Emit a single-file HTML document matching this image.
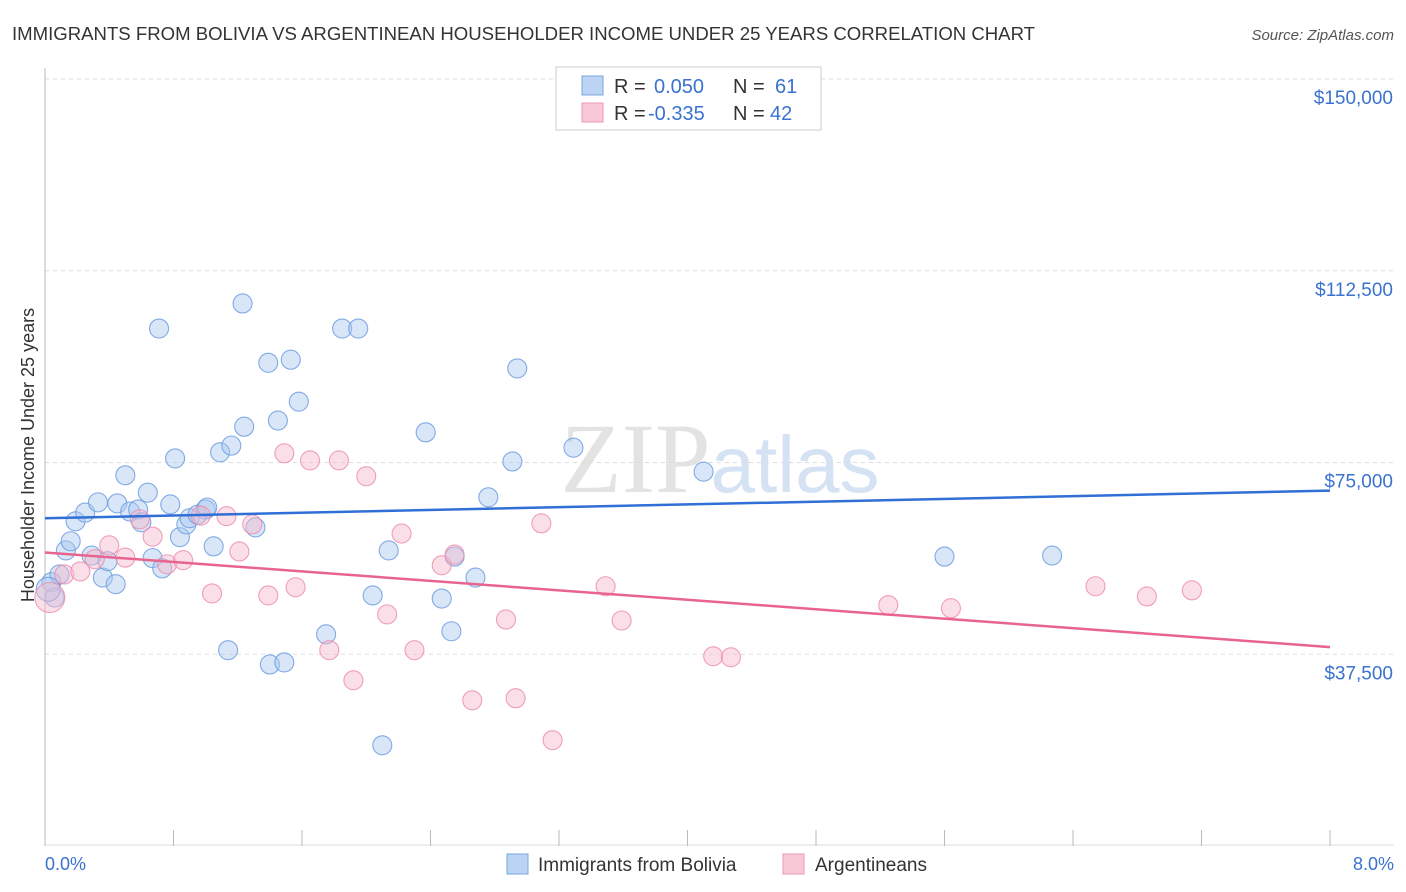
<!DOCTYPE html>
<html><head><meta charset="utf-8"><style>
body{margin:0;background:#fff;font-family:"Liberation Sans",sans-serif;}
svg{display:block}
</style></head><body>
<svg id="chart" width="1406" height="892">
<text x="12" y="40" font-size="18" fill="#333" textLength="1023" lengthAdjust="spacingAndGlyphs">IMMIGRANTS FROM BOLIVIA VS ARGENTINEAN HOUSEHOLDER INCOME UNDER 25 YEARS CORRELATION CHART</text>
<text x="1394" y="40" font-size="15" fill="#555" font-style="italic" text-anchor="end">Source: ZipAtlas.com</text>
<text x="720" y="492" font-size="100" fill="#e3e3e3" text-anchor="middle" font-family="Liberation Serif,serif">ZIP<tspan fill="#d4e2f4" font-family="Liberation Sans,sans-serif" font-size="80">atlas</tspan></text>
<g id="grid"></g><g id="marks"></g>
<text transform="translate(34,455) rotate(-90)" font-size="18" fill="#333" text-anchor="middle">Householder Income Under 25 years</text>
<g>
<rect x="556" y="67" width="265" height="63" fill="#fff" stroke="#ccc"/>
<rect x="582" y="76" width="21" height="19" fill="#bcd3f3" stroke="#7aa7e0"/>
<rect x="582" y="103" width="21" height="19" fill="#f8c8d7" stroke="#ee9ab6"/>
<text x="614" y="93" font-size="20" fill="#333">R = <tspan x="654" fill="#3a72d0">0.050</tspan><tspan x="733">N =</tspan><tspan x="775" fill="#3a72d0">61</tspan></text>
<text x="614" y="120" font-size="20" fill="#333">R = <tspan x="648" fill="#3a72d0">-0.335</tspan><tspan x="733">N =</tspan><tspan x="770" fill="#3a72d0">42</tspan></text>
</g>
<g>
<rect x="507" y="854" width="21" height="20" fill="#bcd3f3" stroke="#7aa7e0"/>
<text x="538" y="871" font-size="19" fill="#333">Immigrants from Bolivia</text>
<rect x="783" y="854" width="21" height="20" fill="#f8c8d7" stroke="#ee9ab6"/>
<text x="815" y="871" font-size="19" fill="#333">Argentineans</text>
</g>
<text x="45" y="870" font-size="18" fill="#3a72d0">0.0%</text>
<text x="1394" y="870" font-size="18" fill="#3a72d0" text-anchor="end">8.0%</text>
</svg>
<script>
const yTicks=[37500,75000,112500,150000];
const yTickLabels=["$37,500","$75,000","$112,500","$150,000"];
const blueX=[0.04,0.06,0.09,0.13,0.16,0.19,0.25,0.29,0.33,0.36,0.39,0.44,0.45,0.50,0.53,0.58,0.60,0.64,0.67,0.71,0.73,0.78,0.81,0.84,0.88,0.90,0.95,1.00,1.01,1.05,1.09,1.14,1.16,1.23,1.24,1.31,1.39,1.40,1.45,1.49,1.53,1.58,1.75,1.85,1.95,2.04,2.10,2.14,2.37,2.47,2.53,2.55,2.68,2.76,2.91,2.94,3.29,4.10,5.60,6.27,0.02];
const blueY=[51.6,48.6,53.1,57.8,59.6,63.5,65.2,56.8,67.2,52.5,55.7,51.2,67.0,72.5,65.4,65.8,63.3,69.1,56.3,101.2,54.3,66.8,75.8,60.4,62.9,64.1,64.8,65.8,66.2,58.6,77.0,38.3,78.3,106.1,82.0,62.3,94.5,35.5,83.2,35.9,95.1,86.9,41.4,101.2,101.2,49.0,19.7,57.8,80.9,48.4,42.0,56.6,52.5,68.2,75.2,93.4,77.9,73.2,56.6,56.8,50.2];
const pinkX=[0.03,0.12,0.22,0.31,0.40,0.50,0.59,0.67,0.76,0.86,0.97,1.04,1.13,1.21,1.29,1.39,1.49,1.56,1.65,1.77,1.83,1.92,2.00,2.13,2.22,2.30,2.47,2.55,2.66,2.87,2.93,3.09,3.16,3.49,3.59,4.16,4.27,5.25,5.64,6.54,6.86,7.14];
const pinkY=[48.6,53.1,53.7,56.1,58.8,56.4,63.9,60.5,55.1,55.9,64.6,49.4,64.5,57.6,62.9,49.0,76.8,50.6,75.4,38.3,75.4,32.4,72.3,45.3,61.1,38.3,54.9,57.0,28.5,44.3,28.9,63.1,20.7,50.8,44.1,37.1,36.9,47.1,46.5,50.8,48.8,50.0];
const blueTrend=[64.1,69.5];
const pinkTrend=[57.4,38.9];
const NS="http://www.w3.org/2000/svg";
const X0=45,X1=1330,Y0=846,Y150=79;
function sx(v){return X0+(X1-X0)*v/8;}
function sy(k){return Y0-(Y0-Y150)*k/150;}
function mk(t,a,p){const e=document.createElementNS(NS,t);for(const k in a)e.setAttribute(k,a[k]);p.appendChild(e);return e;}
const g=document.getElementById('grid'),m=document.getElementById('marks');
yTicks.forEach((v,i)=>{const y=sy(v/1000);
const l=mk('line',{x1:45,x2:1394,y1:y,y2:y,stroke:'#ddd','stroke-dasharray':'4,4'},g);


const t=mk('text',{x:1393,y:y+25,'font-size':19,fill:'#3a72d0','text-anchor':'end'},g);t.textContent=yTickLabels[i];

});
const ax=mk('line',{x1:45,x2:45,y1:68,y2:846,stroke:'#bbb'},g);


const bx=mk('line',{x1:45,x2:1394,y1:845,y2:845,stroke:'#ddd'},g);


for(let i=0;i<=10;i++){const x=sx(i*0.8);const t=mk('line',{x1:x,x2:x,y1:830,y2:846,stroke:'#bbb'},g);

}
function pts(X,Y,fill,stroke,name){X.forEach((x,i)=>{const r=(i===0&&name==='argentinean-point')?15:(i===X.length-1&&name==='bolivia-point'?12:9.5);
const c=mk('circle',{cx:sx(x),cy:sy(Y[i]),r:r,fill:fill,'fill-opacity':0.45,stroke:stroke,'stroke-width':1.1,'stroke-opacity':0.85},m);

});}
pts(blueX,blueY,'#a9c8f0','#6f9de0','bolivia-point');
pts(pinkX,pinkY,'#f6b8cc','#ec8fb0','argentinean-point');
const bl=mk('line',{x1:sx(0),x2:sx(8),y1:sy(blueTrend[0]),y2:sy(blueTrend[1]),stroke:'#2f6fd6','stroke-width':2.5},m);


const pl=mk('line',{x1:sx(0),x2:sx(8),y1:sy(pinkTrend[0]),y2:sy(pinkTrend[1]),stroke:'#e8648f','stroke-width':2.5},m);


</script>
</body></html>
